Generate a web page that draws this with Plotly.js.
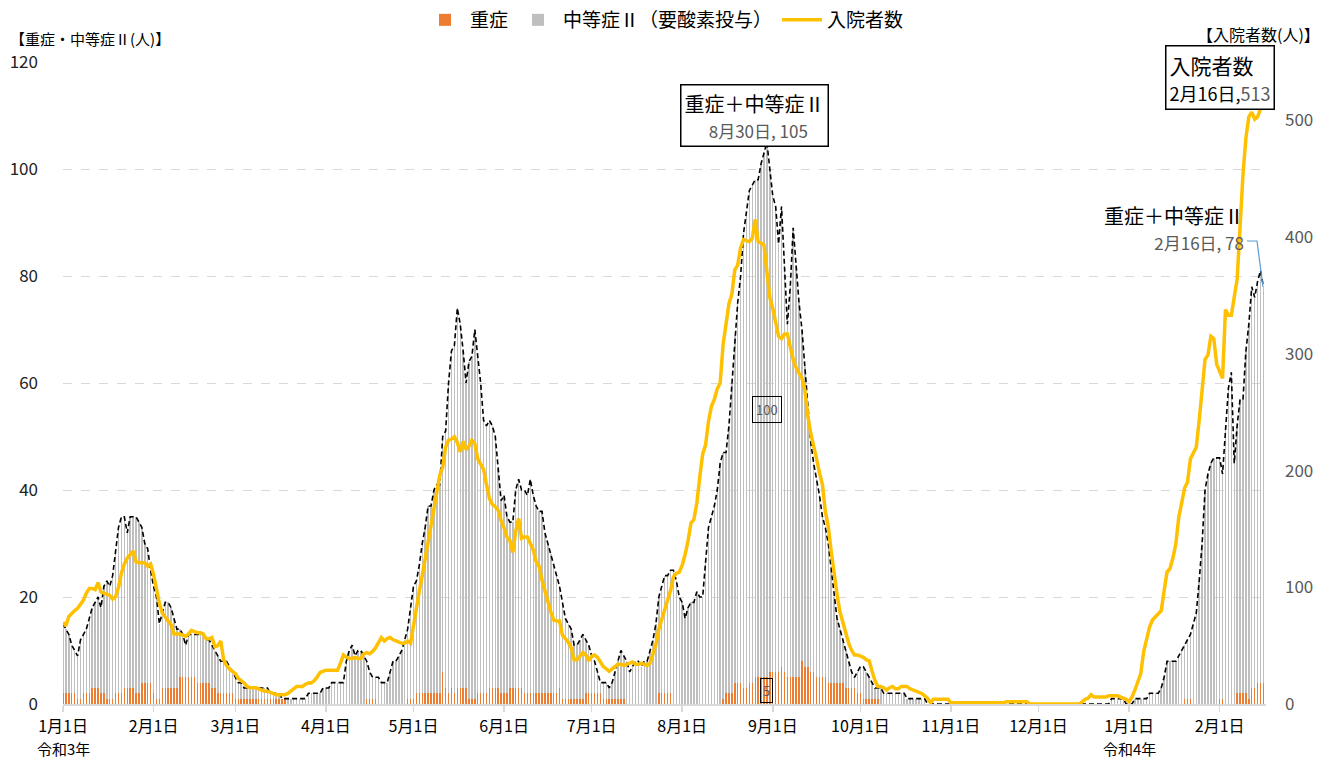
<!DOCTYPE html>
<html><head><meta charset="utf-8">
<script src="https://cdn.plot.ly/plotly-3.0.1.min.js"></script>
<style>html,body{margin:0;padding:0;background:#fff}#chart{width:1334px;height:762px}</style>
</head><body><div id="chart"></div>
<script>
// ---- data (daily, from 2021-01-01 to 2022-02-16) ----
const START = '2021-01-01';
// 重症＋中等症Ⅱ (dashed line = bar totals)
const total = [
15,14,13,11,10,9,12,13,14,16,
18,19,20,18,22,23,22,24,28,33,
35,35,32,35,35,35,34,33,30,29,
25,22,20,15,17,19,19,18,16,14,
14,13,11,13,13,13,13,13,13,12,
12,11,10,9,8,8,8,7,6,5,
4,4,3,3,3,3,3,3,3,3,
3,2,2,2,2,1,1,1,1,1,
1,1,1,1,2,2,2,2,2,3,
3,3,4,4,4,4,4,8,10,11,
9,10,10,9,8,6,5,5,5,4,
4,4,6,8,8,9,10,12,14,18,
22,23,26,30,33,37,37,40,41,41,
50,51,60,66,67,74,71,66,60,64,
65,70,65,60,53,52,53,52,50,44,
38,39,35,34,34,40,42,40,40,39,
42,39,37,36,36,32,30,28,26,24,
22,19,16,15,14,11,11,12,13,12,
11,9,8,6,4,4,4,3,4,6,
8,10,9,8,6,7,8,8,7,8,
8,10,12,15,20,22,24,24,25,25,
23,20,19,16,18,19,19,21,20,20,
27,33,35,37,40,45,47,47,52,60,
69,75,80,88,92,96,97,98,98,101,
103,105,100,95,93,86,93,82,71,78,
89,82,75,70,63,55,49,45,42,39,
35,33,30,25,20,16,14,12,10,8,
6,5,6,7,7,6,5,4,3,3,
3,2,2,2,2,2,2,2,2,1,
1,1,1,1,1,1,0,0,0,0,
0,0,0,0,0,0,0,0,0,0,
0,0,0,0,0,0,0,0,0,0,
0,0,0,0,0,0,0,0,0,0,
0,0,0,0,0,0,0,0,0,0,
0,0,0,0,0,0,0,0,0,0,
0,0,0,0,0,0,0,0,0,1,
1,1,1,1,0,0,0,1,1,1,
1,1,2,2,2,2,3,5,8,8,
8,8,9,10,11,12,13,15,17,23,
30,40,43,45,46,46,46,43,52,59,
62,45,52,57,57,66,71,78,76,79,81,78];
// 重症
const severe = [
2,2,2,2,2,1,1,2,2,2,
3,3,3,2,2,1,1,1,2,2,
2,3,3,3,3,2,2,4,4,4,
4,2,1,1,3,3,3,3,3,3,
5,5,5,5,5,5,4,4,4,4,
4,3,3,2,2,2,2,2,2,1,
1,1,1,1,1,1,1,1,1,1,
1,1,1,1,1,1,1,0,0,0,
0,0,0,0,0,0,0,0,0,0,
0,0,0,0,0,0,0,0,0,0,
0,0,0,0,1,1,1,1,0,0,
0,0,0,0,0,0,0,0,1,1,
1,2,2,2,2,2,2,2,2,2,
6,3,2,3,2,3,3,3,3,1,
1,1,2,2,2,2,3,3,3,3,
2,2,2,3,3,3,3,3,2,2,
2,2,2,2,2,2,2,2,2,2,
3,1,1,1,1,1,1,1,1,2,
2,2,2,2,2,1,1,1,1,1,
1,1,1,0,0,0,0,0,0,0,
0,0,0,0,2,2,2,2,2,0,
0,0,0,0,0,0,0,0,0,0,
0,0,0,0,0,0,1,2,2,2,
4,4,4,3,3,4,4,5,5,5,
5,5,6,6,6,6,7,6,5,5,
5,5,5,8,7,7,6,6,5,5,
5,5,4,4,4,4,4,4,3,3,
3,3,2,2,1,1,1,1,1,1,
0,0,0,0,0,0,0,0,0,0,
0,0,0,0,0,0,0,0,0,0,
0,0,0,0,0,0,0,0,0,0,
0,0,0,0,0,0,0,0,0,0,
0,0,0,0,0,0,0,0,0,0,
0,0,0,0,0,0,0,0,0,0,
0,0,0,0,0,0,0,0,0,0,
0,0,0,0,0,0,0,0,0,0,
0,0,0,0,0,0,0,0,0,0,
0,0,0,0,0,0,0,0,0,0,
0,0,0,0,1,1,1,0,0,0,
0,0,0,0,0,0,1,1,0,0,
0,0,2,2,2,2,1,3,3,4,4,4];
// 入院者数
const inpatients = [
70,67,75,78,80,82,85,89,95,99,
99,98,104,96,95,94,93,90,92,100,
112,120,125,128,131,122,121,121,121,118,
120,111,97,86,78,74,71,68,60,60,
60,59,58,60,63,62,61,61,60,56,
56,57,49,50,54,38,33,30,28,26,
22,20,18,15,14,14,14,13,12,11,
11,10,9,8,8,8,8,9,11,13,
15,15,15,17,18,18,20,23,27,28,
29,29,29,29,29,35,42,40,39,39,
40,39,39,43,44,43,45,48,53,57,
54,56,57,55,54,53,52,52,54,52,
68,82,97,110,125,139,153,168,185,196,
203,220,226,227,229,224,216,225,218,221,
226,223,210,205,201,188,176,171,169,166,
157,151,143,140,130,148,159,142,143,143,
138,132,122,118,106,97,87,79,72,71,
71,59,56,53,48,38,38,41,44,42,
37,41,42,40,36,32,30,28,30,32,
34,34,33,34,35,36,34,34,35,34,
33,35,43,51,64,73,80,89,97,109,
112,113,119,128,140,155,158,172,194,214,
222,242,255,261,270,275,308,325,343,351,
372,376,391,398,397,396,399,415,396,395,
393,372,348,339,328,315,313,317,317,305,
295,288,284,279,269,247,232,222,210,198,
188,165,152,131,111,94,79,69,61,52,
46,42,42,41,40,38,37,28,20,15,
15,14,12,14,15,13,13,15,15,15,
13,12,11,10,9,7,5,1,4,4,
4,4,4,4,1,1,1,1,1,1,
1,1,1,1,1,1,1,1,1,1,
1,1,1,2,2,2,2,2,2,2,
2,0,0,0,0,0,0,0,0,0,
0,0,0,0,0,0,0,0,0,2,
4,5,8,6,6,6,6,6,7,7,
7,7,6,5,4,2,6,12,20,26,
45,57,66,72,75,77,80,97,113,116,
125,137,160,172,185,190,210,215,220,243,
271,295,299,315,313,291,285,279,338,333,
333,351,364,409,454,485,503,507,501,503,510,513];

const tickDates = ['2021-01-01','2021-02-01','2021-03-01','2021-04-01','2021-05-01','2021-06-01','2021-07-01',
  '2021-08-01','2021-09-01','2021-10-01','2021-11-01','2021-12-01','2022-01-01','2022-02-01'];
const tickLabels = ['1月1日','2月1日','3月1日','4月1日','5月1日','6月1日','7月1日',
  '8月1日','9月1日','10月1日','11月1日','12月1日','1月1日','2月1日'];
const eraDates = ['2021-01-01','2022-01-01'];
const eraLabels = ['令和3年','令和4年'];

// ---- derived ----
const t0 = Date.parse(START + 'T00:00:00Z');
const dates = total.map((_, i) => new Date(t0 + i * 86400000).toISOString().slice(0, 10));
const moderate = total.map((v, i) => v - severe[i]);
const lastDate = dates[dates.length - 1];

const FONT = '"Noto Sans CJK JP", "Noto Sans", sans-serif';

const traces = [
  {type:'bar', name:'重症', x:dates, y:severe, marker:{color:'#ed7d31', line:{width:0}}, hoverinfo:'skip'},
  {type:'bar', name:'中等症Ⅱ（要酸素投与）', x:dates, y:moderate, marker:{color:'#bfbfbf', line:{width:0}}, hoverinfo:'skip'},
  {type:'scatter', mode:'lines', name:'重症＋中等症Ⅱ', x:dates, y:total, showlegend:false,
   line:{color:'#000', width:1.6, dash:'5px,3px'}, hoverinfo:'skip'},
  {type:'scatter', mode:'lines', name:'入院者数', x:dates, y:inpatients, yaxis:'y2',
   line:{color:'#ffc000', width:3.5}, hoverinfo:'skip'}
];

const W = 1203, H = 642, L = 63, T = 62;
const px = v => (v - L) / W, py = v => (T + H - v) / H;

const eraAnn = eraDates.map((d, i) => ({
  x:d, xref:'x', yref:'paper', y:py(748), yanchor:'middle', xanchor:'center', showarrow:false,
  text:eraLabels[i], font:{size:15, color:'#000'}, borderpad:0
}));

const layout = {
  width:1334, height:762,
  margin:{l:63, r:68, t:62, b:58, autoexpand:false},
  paper_bgcolor:'#fff', plot_bgcolor:'#fff',
  font:{family:FONT, color:'#000', size:16},
  barmode:'stack', bargap:0.5,
  showlegend:true,
  legend:{orientation:'h', x:0.5, xanchor:'center', y:py(20), yanchor:'middle',
    traceorder:'normal', font:{size:19, color:'#000'}, itemwidth:40},
  xaxis:{type:'date', range:[START + ' 00:00', lastDate + ' 21:00'],
    tickmode:'array', tickvals:tickDates, ticktext:tickLabels,
    ticks:'outside', ticklen:6, tickcolor:'#d9d9d9', tickwidth:1.5,
    showline:true, linecolor:'#d9d9d9', linewidth:1.5, showgrid:false, zeroline:false,
    tickfont:{size:16, color:'#000'}, ticklabelstandoff:1},
  yaxis:{range:[0,120], dtick:20, showgrid:true, gridcolor:'#d9d9d9', griddash:'dash', gridwidth:1,
    zeroline:false, showline:false, ticks:'', tickfont:{size:17, color:'#222'}, ticklabelstandoff:24},
  yaxis2:{overlaying:'y', side:'right', range:[0,550], tickvals:[0,100,200,300,400,500],
    showgrid:false, zeroline:false, showline:false, ticks:'', tickfont:{size:17, color:'#595959'},
    ticklabelstandoff:18},
  shapes:[
    {type:'path', xref:'paper', yref:'paper',
     path:'M' + px(1247) + ',' + py(241) + ' L' + px(1257) + ',' + py(241) + ' L' + px(1263) + ',' + py(287),
     line:{color:'#5b9bd5', width:1.2}}
  ],
  annotations:[
    {xref:'paper', yref:'paper', x:px(8), y:py(38), xanchor:'left', yanchor:'middle', showarrow:false,
     text:'【重症・中等症Ⅱ(人)】', font:{size:15, color:'#000'}},
    {xref:'paper', yref:'paper', x:px(1322), y:py(34), xanchor:'right', yanchor:'middle', showarrow:false,
     text:'【入院者数(人)】', font:{size:16, color:'#000'}},
    {xref:'paper', yref:'paper', x:px(754), y:py(115.5), xanchor:'center', yanchor:'middle', showarrow:false,
     text:'重症＋中等症Ⅱ<br><span style="font-size:17px;color:#595959">  8月30日, 105</span>',
     font:{size:20, color:'#000'}, align:'center', bordercolor:'#000', borderwidth:1.5, borderpad:3, bgcolor:'#fff'},
    {xref:'paper', yref:'paper', x:px(1220), y:py(77.5), xanchor:'center', yanchor:'middle', showarrow:false,
     text:'入院者数<br><span style="font-size:18px">2月16日,<span style="color:#595959">513</span></span>',
     font:{size:21, color:'#000'}, align:'left', bordercolor:'#000', borderwidth:1.5, borderpad:3, bgcolor:'#fff'},
    {xref:'paper', yref:'paper', x:px(1246), y:py(228), xanchor:'right', yanchor:'middle', showarrow:false,
     text:'重症＋中等症Ⅱ<br><span style="font-size:17px;color:#595959">2月16日, 78</span>',
     font:{size:20, color:'#000'}, align:'right'},
    {x:'2021-08-30', y:55, xref:'x', yref:'y', showarrow:false, text:'100',
     font:{size:13, color:'#595959'}, bordercolor:'#000', borderwidth:1, borderpad:3},
    {x:'2021-08-30', y:2.5, xref:'x', yref:'y', showarrow:false, text:'5',
     font:{size:13, color:'#595959'}, bordercolor:'#000', borderwidth:1, borderpad:2}
  ].concat(eraAnn)
};

Plotly.newPlot('chart', traces, layout, {staticPlot:true, displayModeBar:false});
</script></body></html>
